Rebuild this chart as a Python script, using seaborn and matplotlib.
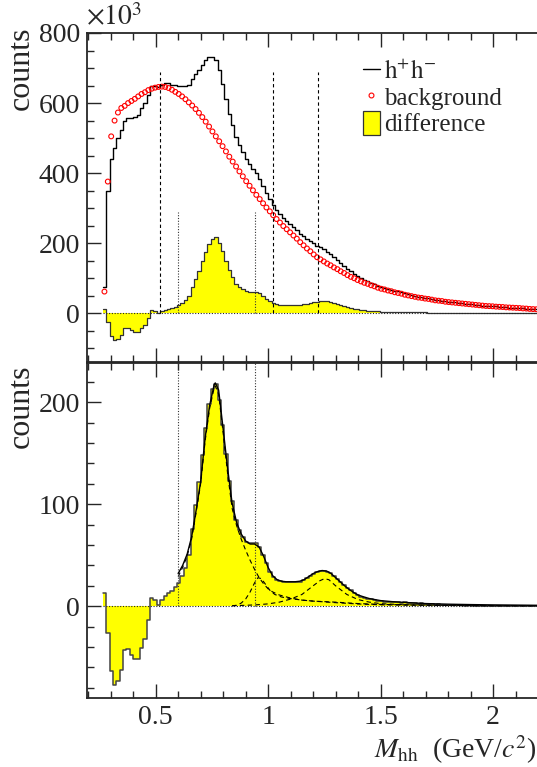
import numpy as np
import pandas as pd
import matplotlib
matplotlib.use('Agg')
import matplotlib.pyplot as plt
from matplotlib.lines import Line2D
from matplotlib.patches import Patch
from matplotlib.ticker import MultipleLocator
import seaborn as sns

## =============================== ##
## data (counts in units of 10^3)

bin_start = 0.265
bin_width = 0.015

# background (red open circles), one value per bin
background = [62, 376, 505, 550, 573, 586, 592, 600, 606, 612,
              619, 626, 631, 637, 641, 644, 646, 647, 646, 643,
              638, 632, 626, 619, 611, 602, 593, 583, 572, 560,
              547, 533, 519, 505, 491, 477, 462, 447, 433, 419,
              405, 391, 377, 364, 351, 338, 326, 314, 302, 291,
              280, 269, 259, 249, 240, 231, 222, 213, 203, 194,
              185, 177, 168, 160, 154, 148, 142, 137, 131, 126,
              120, 115, 109, 104, 100, 95, 91, 87, 84, 80,
              77, 73, 70, 68, 65, 63, 60, 58, 56, 53,
              51, 49, 47, 45, 44, 42, 41, 39, 37, 36,
              35, 33, 32, 31, 30, 29, 28, 27, 26, 25,
              24, 23, 22, 21, 20.5, 20, 19, 18.5, 18, 17,
              16.5, 16, 15.5, 15, 14, 13.5, 12.5, 12, 11.5]

# difference h+h- minus background (yellow histogram), one value per bin
difference = [13, -26, -64, -77, -73, -63, -43, -42, -48, -52,
              -52, -41, -32, -13.5, 8, 6, 1, 6, 10, 13,
              15, 19, 23, 30, 37, 50, 76, 99, 122, 148,
              175, 198, 213, 218, 202, 178, 149, 123, 103, 85,
              75, 68, 63, 62, 62, 62, 58, 50, 42, 34,
              29, 26, 25, 24, 23.5, 23.5, 23.5, 23.5, 24, 25.5,
              27.5, 30, 32, 33.5, 34.5, 35, 34, 32.5, 30, 27,
              24, 21, 18, 15.5, 13, 11, 9.5, 8.5, 7.5, 7,
              6.5, 5.5, 5, 4.5, 4, 4.5, 4, 4.5, 3.5, 4,
              3.5, 3, 3, 2.5, 3, 2.5, 2, 2, 1.5, 2,
              1.5, 1.5, 1, 1.5, 1, 1, 1, 0.5, 1, 0.5,
              0.5, 0.5, 0, 0.5, 0, 0, 0.5, 0, 0, 0,
              0, 0, 0, 0, 0, 0, 0, 0, 0]

# fit to the difference (solid) and its components (dashed)
fit_mass = [0.60, 0.62, 0.64, 0.66, 0.68, 0.70, 0.72, 0.74, 0.76, 0.765,
            0.78, 0.80, 0.82, 0.84, 0.86, 0.88, 0.90, 0.92, 0.94, 0.96,
            0.98, 1.00, 1.02, 1.04, 1.06, 1.08, 1.10, 1.12, 1.14, 1.16,
            1.18, 1.20, 1.22, 1.24, 1.26, 1.28, 1.30, 1.32, 1.34, 1.36,
            1.38, 1.40, 1.42, 1.45, 1.50, 1.55, 1.60, 1.70, 1.80, 1.90,
            2.00, 2.10, 2.20]
fit_total = [32, 40, 51, 68, 94, 122, 165, 197, 217, 219,
             212, 174, 135, 101, 82, 71, 64, 61, 61, 58,
             49, 38, 30, 26, 24.5, 24, 24, 24, 24.5, 26,
             29, 32, 34, 35, 34.5, 32, 28, 24, 20, 16.5,
             13.5, 11, 9.5, 7.5, 5.5, 4.5, 3.8, 2.6, 2.0, 1.6,
             1.3, 1.1, 0.9]

rho_mass = [0.60, 0.62, 0.64, 0.66, 0.68, 0.70, 0.72, 0.74, 0.76, 0.765,
            0.78, 0.80, 0.82, 0.84, 0.86, 0.88, 0.90, 0.92, 0.94, 0.96,
            0.98, 1.00, 1.02, 1.05, 1.10, 1.15, 1.20, 1.30, 1.40, 1.50,
            1.60, 1.80, 2.00, 2.20]
rho_comp = [29, 38, 49, 66, 92, 120, 162, 194, 214, 216,
            208, 170, 130, 96, 79, 66, 55, 45, 36, 28,
            22, 17, 14, 11, 8, 6, 5, 4, 2.6, 1.8,
            1.4, 0.9, 0.6, 0.45]

f0_mass = [0.84, 0.86, 0.88, 0.90, 0.92, 0.94, 0.955, 0.97, 0.99, 1.01,
           1.03, 1.06, 1.10, 1.15, 1.20, 1.30, 1.40, 1.50, 1.70, 1.90, 2.20]
f0_comp = [0.3, 1, 3, 7, 14, 23, 28, 27, 21, 15,
           11.5, 9, 7.5, 6, 5, 3.5, 2.2, 1.4, 0.9, 0.6, 0.35]

f2_mass = [0.84, 0.90, 0.95, 1.00, 1.05, 1.10, 1.15, 1.20, 1.23, 1.25,
           1.27, 1.30, 1.35, 1.40, 1.45, 1.50, 1.60, 1.80, 2.00, 2.20]
f2_comp = [0.5, 0.9, 1.4, 2.3, 4, 7, 11.5, 20, 25, 27,
           26, 20, 11.5, 6.5, 4, 2.5, 1.5, 0.7, 0.4, 0.25]

# marker lines
dashed_lines = [0.52, 1.02, 1.22]
dotted_lines = [0.60, 0.94]

## =============================== ##

n_bins = len(background)
edges = bin_start + bin_width * np.arange(n_bins + 1)
centers = 0.5 * (edges[:-1] + edges[1:])
bin_list = [float(e) for e in edges]

df = pd.DataFrame({'mass': centers, 'bg': background, 'diff': difference})
df['hh'] = df['bg'] + df['diff']

sns.set_style('ticks')
plt.rcParams['font.family'] = ['Liberation Serif', 'DejaVu Serif']
plt.rcParams['mathtext.fontset'] = 'stix'
plt.rcParams['axes.linewidth'] = 1.3

FS = 20
W, H = 537., 767.

fig = plt.figure(figsize=(W / 100., H / 100.), dpi=100)
ax1 = fig.add_axes([87 / W, 1 - 362 / H, 450 / W, 329 / H])
ax2 = fig.add_axes([87 / W, 1 - 698 / H, 450 / W, 335 / H])

## top panel
sns.histplot(data=df, x='mass', weights='diff', bins=bin_list, element='step', fill=True,
             color='#ffff00', alpha=1., linewidth=0, ax=ax1)
sns.histplot(data=df, x='mass', weights='diff', bins=bin_list, element='step', fill=False,
             color='#333333', linewidth=0.9, ax=ax1)
sns.histplot(data=df, x='mass', weights='hh', bins=bin_list, element='step', fill=False,
             color='k', linewidth=1.0, ax=ax1)
sns.scatterplot(data=df, x='mass', y='bg', marker='o', s=12, fc='none', ec='#ff0000',
                linewidth=0.8, ax=ax1, zorder=5)
ax1.vlines(dashed_lines, 0, 690, colors='k', linestyles=(0, (3, 2.5)), lw=0.8, zorder=6)
ax1.vlines(dotted_lines, 0, 290, colors='0.2', linestyles=(0, (1, 1.5)), lw=0.8, zorder=6)
ax1.hlines(0, edges[0], edges[-1], colors='0.15', linestyles=(0, (1, 1.5)), lw=0.8, zorder=6)

ax1.set_xlim(0.195, 2.195)
ax1.set_ylim(-139, 800)
ax1.set_yticks([0, 200, 400, 600, 800])
ax1.yaxis.set_minor_locator(MultipleLocator(50))
ax1.xaxis.set_major_locator(MultipleLocator(0.5))
ax1.xaxis.set_minor_locator(MultipleLocator(0.1))
ax1.tick_params(axis='x', labelbottom=False)

leg_handles = [Line2D([], [], color='k', lw=1.0),
               Line2D([], [], ls='', marker='o', ms=3.5, mfc='none', mec='#ff0000', mew=0.8),
               Patch(facecolor='#ffff00', edgecolor='#333333', lw=0.9)]
leg_labels = [r'$\mathrm{h^{+}h^{-}}$', 'background', 'difference']
ax1.legend(leg_handles, leg_labels, loc='upper left', bbox_to_anchor=(350 / W, 1 - 46 / H),
           bbox_transform=fig.transFigure, frameon=False, fontsize=18, handlelength=0.7,
           handletextpad=0.15, labelspacing=0.02, borderpad=0., handleheight=1.1)

## bottom panel
sns.histplot(data=df, x='mass', weights='diff', bins=bin_list, element='step', fill=True,
             color='#ffff00', alpha=1., linewidth=0, ax=ax2)
sns.histplot(data=df, x='mass', weights='diff', bins=bin_list, element='step', fill=False,
             color='#444444', linewidth=1.1, ax=ax2)
for xs, ys in [(rho_mass, rho_comp), (f0_mass, f0_comp), (f2_mass, f2_comp)]:
	sns.lineplot(x=xs, y=ys, color='k', lw=0.8, linestyle=(0, (4, 3)), ax=ax2, zorder=6)
sns.lineplot(x=fit_mass, y=fit_total, color='k', lw=1.0, ax=ax2, zorder=7)
ax2.vlines(dotted_lines, 0, 240, colors='0.2', linestyles=(0, (1, 1.5)), lw=0.8, zorder=6)
ax2.hlines(0, edges[0], edges[-1], colors='0.15', linestyles=(0, (1, 1.5)), lw=0.8, zorder=6)

ax2.set_xlim(0.195, 2.195)
ax2.set_ylim(-90, 238.5)
ax2.set_yticks([0, 100, 200])
ax2.yaxis.set_minor_locator(MultipleLocator(20))
ax2.xaxis.set_minor_locator(MultipleLocator(0.1))
ax2.set_xticks([0.5, 1.0, 1.5, 2.0])
ax2.set_xticklabels(['0.5', '1', '1.5', '2'])

for ax in [ax1, ax2]:
	ax.set_xlabel('')
	ax.set_ylabel('')
	ax.tick_params(which='both', direction='in', top=True, right=False, labelsize=FS, pad=5, width=1.0)
	ax.tick_params(which='major', length=10)
	ax.tick_params(which='minor', length=5)
	for s in ax.spines.values():
		s.set_linewidth(1.3)
	ax.spines['right'].set_visible(False)

## texts
fig.text(21 / W, 1 - 26 / H, 'counts', rotation=90, ha='center', va='top', fontsize=23)
fig.text(21 / W, 1 - 364 / H, 'counts', rotation=90, ha='center', va='top', fontsize=23)
fig.text(86 / W, 1 - 31 / H, r'$\times10^{3}$', ha='left', va='bottom', fontsize=FS)
fig.text(0.998, 1 / H, r'$M_{\rm hh}$  (GeV/$c^{2}$)', ha='right', va='bottom', fontsize=FS)

fig.savefig('out.png', dpi=100)
